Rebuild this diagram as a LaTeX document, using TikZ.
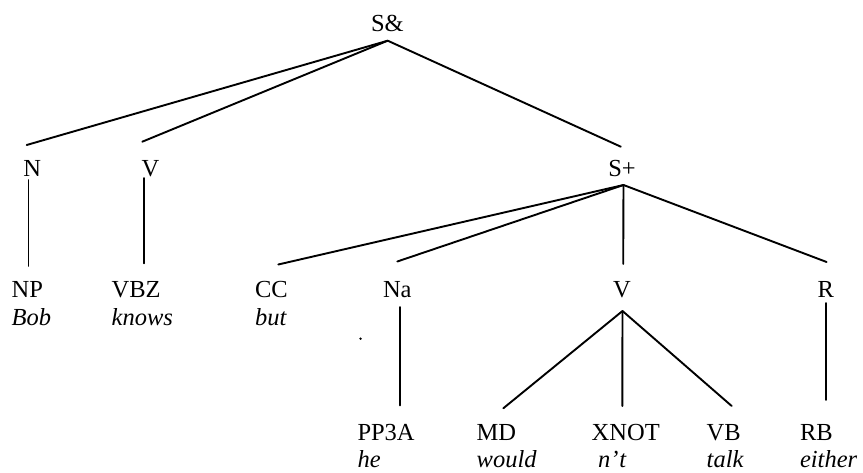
\documentclass[tikz,border=0pt]{standalone}
\usepackage{fontspec}
\setmainfont{Liberation Serif}
\begin{document}
\begin{tikzpicture}[x=1pt,y=-1pt,
  lbl/.style={anchor=base west,inner sep=0pt,outer sep=0pt,
    font=\fontsize{24.5}{29}\selectfont},
  wrd/.style={lbl,font=\fontsize{24.5}{29}\selectfont\itshape},
  edge/.style={line width=1.9pt,line cap=round}]
\useasboundingbox (0,0) rectangle (863,473);

% root
\node[lbl] (SA) at (371,32) {S\&};

% first level
\node[lbl] (N)  at (23.3,177)  {N};
\node[lbl] (V1) at (141.7,177) {V};
\node[lbl] (SP) at (608.3,177) {S+};

% second level tags and words
\node[lbl] (NP)  at (11.7,298)  {NP};
\node[wrd] (Bob) at (11.7,326)  {Bob};
\node[lbl] (VBZ) at (111.7,298) {VBZ};
\node[wrd] (knows) at (111.7,326) {knows};
\node[lbl] (CC)  at (255,298)   {CC};
\node[wrd] (but) at (255,326)   {but};
\node[lbl] (Na)  at (383,298)   {Na};
\node[lbl] (V2)  at (613,298)   {V};
\node[lbl] (R)   at (817.5,298) {R};

% third level tags and words
\node[lbl] (PP3A)  at (357.5,440) {PP3A};
\node[wrd] (he)    at (357.5,467) {he};
\node[lbl] (MD)    at (476.7,440) {MD};
\node[wrd] (would) at (476.7,467) {would};
\node[lbl] (XNOT)  at (591.7,440) {XNOT};
\node[wrd] (nt)    at (598,467)   {n'\kern1pt t};
\node[lbl] (VB)    at (706.7,440) {VB};
\node[wrd] (talk)  at (706.7,467) {talk};
\node[lbl] (RB)    at (800,440)   {RB};
\node[wrd] (either) at (800,467)  {either};

% branches from S&
\draw[edge] ([shift={(16.7,8.7)}]SA.base west) -- ([shift={(3.4,-32)}]N.base west);
\draw[edge] ([shift={(16.7,8.7)}]SA.base west) -- ([shift={(0.6,-35.3)}]V1.base west);
\draw[edge] ([shift={(16.7,8.7)}]SA.base west) -- ([shift={(12.5,-30.3)}]SP.base west);

% unary branches
\draw[edge] ([shift={(5.2,3)}]N.base west) -- ([shift={(16.8,-32)}]NP.base west);
\draw[edge] ([shift={(2.6,1)}]V1.base west) -- ([shift={(32.6,-34.7)}]VBZ.base west);

% branches from S+
\draw[edge] ([shift={(15.2,8)}]SP.base west) -- ([shift={(23.3,-33.5)}]CC.base west);
\draw[edge] ([shift={(15.2,8)}]SP.base west) -- ([shift={(14.3,-36.5)}]Na.base west);
\draw[edge] ([shift={(15.2,8)}]SP.base west) -- ([shift={(10.2,-34)}]V2.base west);
\draw[edge] ([shift={(15.2,8)}]SP.base west) -- ([shift={(9.1,-36)}]R.base west);

\draw[edge] ([shift={(17,9)}]Na.base west) -- ([shift={(42.5,-34.5)}]PP3A.base west);

% branches from V
\draw[edge] ([shift={(9.5,13)}]V2.base west) -- ([shift={(26.6,-31.7)}]MD.base west);
\draw[edge] ([shift={(9.5,13)}]V2.base west) -- ([shift={(30.6,-34)}]XNOT.base west);
\draw[edge] ([shift={(9.5,13)}]V2.base west) -- ([shift={(25,-34)}]VB.base west);

\draw[edge] ([shift={(8.2,5)}]R.base west) -- ([shift={(25.7,-40)}]RB.base west);

% speck below "but"
\fill (360.5,338.7) circle (1.3);
\end{tikzpicture}
\end{document}
